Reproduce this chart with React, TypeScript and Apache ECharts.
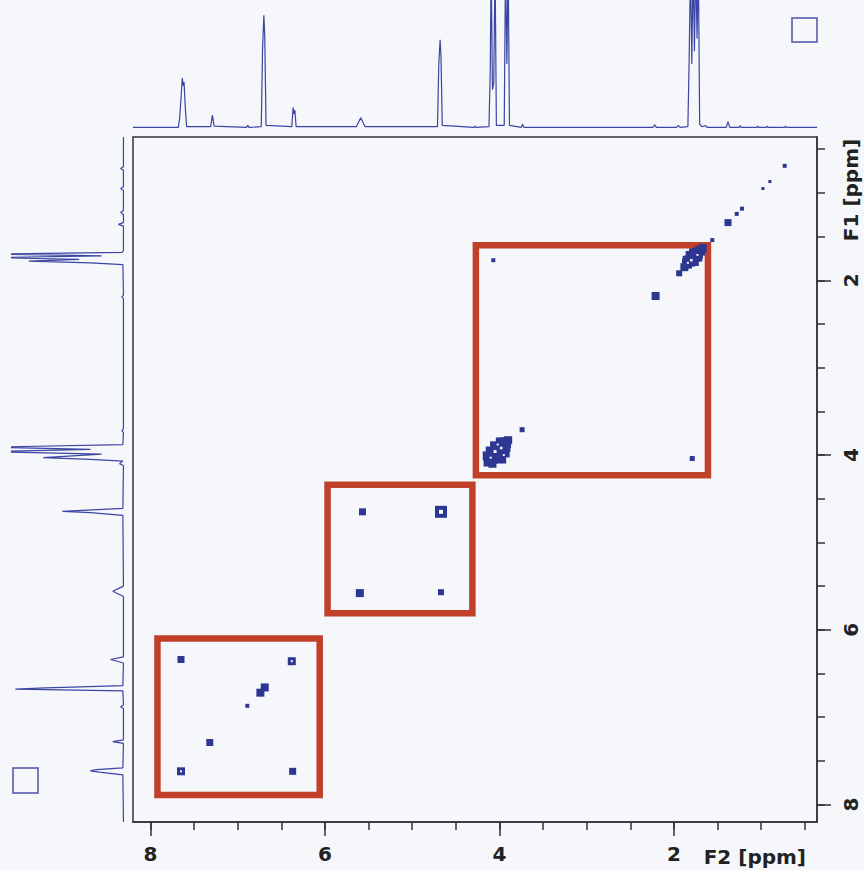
import React, { useEffect, useRef } from "react";
import * as echarts from "echarts";

// COSY spectrum: chemical shift ranges (ppm) of both dimensions
const F2_RANGE = [0.36, 8.2];
const F1_RANGE = [0.36, 8.2];
const MINOR_TICKS = [0.5, 1, 1.5, 2, 2.5, 3, 3.5, 4, 4.5, 5, 5.5, 6, 6.5, 7, 7.5, 8];
const MAJOR_TICKS = [2, 4, 6, 8];

// [F2 ppm, F1 ppm, symbol size px]
const PEAKS: number[][] = [
  // aromatic region
  [7.65, 6.34, 7], [6.38, 6.36, 8], [6.69, 6.66, 8], [6.74, 6.72, 8], [6.89, 6.87, 4],
  [7.32, 7.29, 7], [7.65, 7.62, 8], [6.37, 7.62, 7],
  // olefinic region
  [5.57, 4.65, 7], [4.67, 4.65, 12], [5.60, 5.58, 8], [4.67, 5.57, 6],
  // aliphatic region
  [4.07, 1.77, 4], [1.94, 1.92, 6], [2.21, 2.18, 8], [3.74, 3.71, 5], [1.79, 4.04, 5], [1.56, 1.54, 4],
  // methyl / high field diagonal
  [1.38, 1.34, 7], [1.28, 1.24, 4], [1.22, 1.18, 4], [0.98, 0.95, 3], [0.90, 0.87, 3], [0.73, 0.69, 4],
];

// multiplet contour clusters, [F2 ppm, F1 ppm, size]
const CLUSTER_A: number[][] = [
  [1.88, 1.85, 8], [1.85, 1.81, 10], [1.82, 1.78, 11], [1.79, 1.75, 11], [1.76, 1.72, 11],
  [1.73, 1.69, 11], [1.70, 1.66, 10], [1.67, 1.63, 8],
  [1.82, 1.71, 8], [1.76, 1.79, 8], [1.86, 1.76, 7], [1.72, 1.74, 8], [1.78, 1.68, 8],
];
const CLUSTER_B: number[][] = [
  [4.13, 4.08, 9], [4.09, 4.04, 11], [4.05, 4.00, 12], [4.01, 3.95, 12], [3.97, 3.90, 12],
  [3.93, 3.86, 11], [3.90, 3.83, 8],
  [4.10, 3.96, 10], [4.05, 3.90, 10], [3.98, 4.04, 10], [3.94, 3.97, 10], [4.14, 4.01, 9],
  [3.99, 3.85, 9], [4.08, 4.10, 8], [3.92, 3.92, 8],
];
// unfilled contour centres
const HOLES: number[][] = [
  [6.38, 6.36, 2], [7.65, 7.62, 2], [4.67, 4.65, 4],
  [1.80, 1.77, 2.5], [1.73, 1.71, 2], [1.84, 1.80, 2],
  [4.05, 3.96, 3], [3.98, 3.92, 2.5], [4.10, 4.03, 2], [3.95, 4.00, 2], [4.02, 3.88, 2],
];

// boxed spin systems: [F2 from, F2 to, F1 from, F1 to]
const BOXES: number[][] = [
  [4.27, 1.61, 1.60, 4.23],
  [5.97, 4.31, 4.34, 5.81],
  [7.92, 6.06, 6.10, 7.89],
];

// F2 projection: [ppm, relative intensity]
const F2_TRACE: number[][] = [
  [8.2, 0.005], [7.68, 0.005], [7.665, 0.08], [7.645, 0.28], [7.635, 0.39], [7.625, 0.33], [7.615, 0.36],
  [7.60, 0.15], [7.585, 0.01], [7.31, 0.01], [7.29, 0.1], [7.27, 0.015], [6.90, 0.005], [6.885, 0.02],
  [6.87, 0.005], [6.73, 0.01], [6.715, 0.62], [6.70, 0.88], [6.69, 0.72], [6.675, 0.02], [6.38, 0.01],
  [6.365, 0.16], [6.355, 0.11], [6.345, 0.14], [6.33, 0.01], [5.64, 0.01], [5.59, 0.08], [5.54, 0.01],
  [4.71, 0.01], [4.695, 0.5], [4.68, 0.69], [4.67, 0.56], [4.655, 0.02], [4.29, 0.005], [4.28, 0.015],
  [4.27, 0.005], [4.12, 0.01], [4.105, 0.45], [4.095, 1.3], [4.08, 0.3], [4.065, 0.35], [4.05, 1.3],
  [4.035, 0.02], [3.945, 0.02], [3.93, 1.3], [3.915, 0.5], [3.90, 1.3], [3.885, 0.02], [3.75, 0.005],
  [3.735, 0.03], [3.72, 0.005], [2.24, 0.005], [2.22, 0.025], [2.20, 0.005], [1.97, 0.005], [1.95, 0.02],
  [1.93, 0.005], [1.84, 0.01], [1.825, 0.55], [1.81, 1.3], [1.795, 0.5], [1.78, 1.3], [1.765, 0.6],
  [1.75, 1.3], [1.735, 0.7], [1.72, 1.3], [1.705, 0.03], [1.68, 0.01], [1.64, 0.02], [1.62, 0.005],
  [1.40, 0.005], [1.38, 0.05], [1.36, 0.005], [1.25, 0.005], [1.24, 0.02], [1.23, 0.005], [1.05, 0.005],
  [1.04, 0.015], [1.03, 0.005], [0.94, 0.005], [0.93, 0.015], [0.92, 0.005], [0.73, 0.005], [0.72, 0.015],
  [0.71, 0.005], [0.36, 0.005],
];

// F1 projection: [relative intensity, ppm]
const F1_TRACE: number[][] = [
  [0.005, 0.36], [0.005, 0.70], [0.03, 0.72], [0.005, 0.74], [0.005, 0.93], [0.03, 0.95], [0.005, 0.97],
  [0.005, 1.20], [0.03, 1.22], [0.005, 1.25], [0.005, 1.34], [0.05, 1.36], [0.005, 1.38], [0.005, 1.66],
  [0.02, 1.68], [1.2, 1.70], [0.2, 1.72], [1.2, 1.74], [0.4, 1.76], [0.85, 1.78], [0.3, 1.80],
  [0.01, 1.82], [0.005, 2.17], [0.02, 2.19], [0.005, 2.21], [0.005, 3.70], [0.02, 3.72], [0.005, 3.74],
  [0.01, 3.88], [1.2, 3.91], [0.3, 3.935], [1.2, 3.96], [0.2, 3.99], [0.72, 4.03], [0.3, 4.05],
  [0.01, 4.07], [0.04, 4.10], [0.005, 4.12], [0.01, 4.61], [0.55, 4.645], [0.3, 4.66], [0.01, 4.69],
  [0.005, 5.50], [0.1, 5.56], [0.005, 5.62], [0.005, 6.31], [0.12, 6.34], [0.06, 6.36], [0.005, 6.38],
  [0.01, 6.64], [0.7, 6.665], [0.97, 6.68], [0.01, 6.70], [0.005, 6.86], [0.03, 6.88], [0.005, 6.90],
  [0.005, 7.26], [0.1, 7.28], [0.005, 7.30], [0.01, 7.58], [0.25, 7.60], [0.3, 7.615], [0.22, 7.63],
  [0.01, 7.66], [0.005, 8.2],
];

const BG = "#f5f7fb";
const INK = "#222";
const FRAME = "#333";
const PEAK_BLUE = "#2d3791";
const TRACE_BLUE = "#3b45a2";
const BOX_RED = "#c0402a";
const FONT = "DejaVu Sans";

const labelStyle = { fontFamily: FONT, fontWeight: "bold" as const, fontSize: 20, color: INK };

function ppmAxis(extra: any) {
  return {
    type: "value",
    gridIndex: 0,
    inverse: true,
    splitLine: { show: false },
    ...extra,
  };
}

function buildOption() {
  return {
    animation: false,
    backgroundColor: BG,
    grid: [
      { left: 133, top: 137, width: 684, height: 685, show: true, borderColor: FRAME, borderWidth: 1.5, backgroundColor: "transparent", outerBoundsMode: "none" },
      { left: 133, top: 0, width: 684, height: 128, outerBoundsMode: "none" },
      { left: 12, top: 137, width: 112, height: 685, outerBoundsMode: "none" },
    ],
    xAxis: [
      ppmAxis({
        min: F2_RANGE[0], max: F2_RANGE[1], position: "bottom",
        axisLine: { show: true, lineStyle: { color: FRAME, width: 1.5 } },
        axisTick: { show: true, length: 8, customValues: MINOR_TICKS, lineStyle: { color: FRAME, width: 1.5 } },
        axisLabel: { show: false },
      }),
      ppmAxis({
        min: F2_RANGE[0], max: F2_RANGE[1], position: "bottom",
        axisLine: { show: false },
        axisTick: { show: true, length: 14, customValues: MAJOR_TICKS, lineStyle: { color: FRAME, width: 1.5 } },
        axisLabel: { show: true, customValues: MAJOR_TICKS, margin: 22, ...labelStyle },
      }),
      { type: "value", gridIndex: 1, inverse: true, min: F2_RANGE[0], max: F2_RANGE[1], show: false },
      { type: "value", gridIndex: 2, inverse: true, min: 0, max: 1, show: false },
    ],
    yAxis: [
      ppmAxis({
        min: F1_RANGE[0], max: F1_RANGE[1], position: "right",
        axisLine: { show: true, lineStyle: { color: FRAME, width: 1.5 } },
        axisTick: { show: true, length: 8, customValues: MINOR_TICKS, lineStyle: { color: FRAME, width: 1.5 } },
        axisLabel: { show: false },
      }),
      ppmAxis({
        min: F1_RANGE[0], max: F1_RANGE[1], position: "right",
        axisLine: { show: false },
        axisTick: { show: true, length: 14, customValues: MAJOR_TICKS, lineStyle: { color: FRAME, width: 1.5 } },
        axisLabel: { show: true, customValues: MAJOR_TICKS, rotate: 90, margin: 24, ...labelStyle },
      }),
      { type: "value", gridIndex: 1, min: 0, max: 1, show: false },
      { type: "value", gridIndex: 2, inverse: true, min: F1_RANGE[0], max: F1_RANGE[1], show: false },
    ],
    series: [
      {
        type: "scatter",
        name: "boxes",
        xAxisIndex: 0,
        yAxisIndex: 0,
        data: [],
        silent: true,
        markArea: {
          silent: true,
          itemStyle: { color: "rgba(0,0,0,0)", borderColor: BOX_RED, borderWidth: 6.5 },
          data: BOXES.map((b) => [{ coord: [b[0], b[2]] }, { coord: [b[1], b[3]] }]),
        },
      },
      {
        type: "scatter",
        name: "peaks",
        xAxisIndex: 0,
        yAxisIndex: 0,
        symbol: "rect",
        symbolSize: (v: number[]) => v[2],
        itemStyle: { color: PEAK_BLUE, opacity: 1 },
        data: [...PEAKS, ...CLUSTER_A, ...CLUSTER_B],
        silent: true,
      },
      {
        type: "scatter",
        name: "holes",
        xAxisIndex: 0,
        yAxisIndex: 0,
        symbol: "rect",
        symbolSize: (v: number[]) => v[2],
        itemStyle: { color: BG, opacity: 1 },
        data: HOLES,
        silent: true,
      },
      {
        type: "line",
        name: "F2 projection",
        xAxisIndex: 2,
        yAxisIndex: 2,
        data: F2_TRACE,
        showSymbol: false,
        symbol: "none",
        clip: true,
        lineStyle: { color: TRACE_BLUE, width: 1.2 },
        silent: true,
      },
      {
        type: "line",
        name: "F1 projection",
        xAxisIndex: 3,
        yAxisIndex: 3,
        data: F1_TRACE,
        showSymbol: false,
        symbol: "none",
        clip: true,
        lineStyle: { color: TRACE_BLUE, width: 1.2 },
        silent: true,
      },
    ],
    graphic: [
      {
        type: "text",
        x: 806,
        y: 857,
        style: { text: "F2 [ppm]", font: `bold 20px "${FONT}"`, fill: INK, align: "right", verticalAlign: "middle" },
      },
      {
        type: "text",
        x: 851,
        y: 190,
        rotation: Math.PI / 2,
        style: { text: "F1 [ppm]", font: `bold 20px "${FONT}"`, fill: INK, align: "center", verticalAlign: "middle" },
      },
      {
        type: "rect",
        shape: { x: 792, y: 18, width: 25, height: 24 },
        style: { fill: "none", stroke: "#4b53aa", lineWidth: 1.5 },
      },
      {
        type: "rect",
        shape: { x: 13, y: 768, width: 25, height: 25 },
        style: { fill: "none", stroke: "#4b53aa", lineWidth: 1.5 },
      },
    ],
  };
}

export default function App() {
  const ref = useRef<HTMLDivElement>(null);
  useEffect(() => {
    document.body.style.margin = "0";
    document.body.style.background = BG;
    const chart = echarts.init(ref.current!, null, { renderer: "svg" });
    chart.setOption(buildOption() as any);
    return () => chart.dispose();
  }, []);
  return <div ref={ref} style={{ width: 864, height: 870, background: BG }} />;
}
